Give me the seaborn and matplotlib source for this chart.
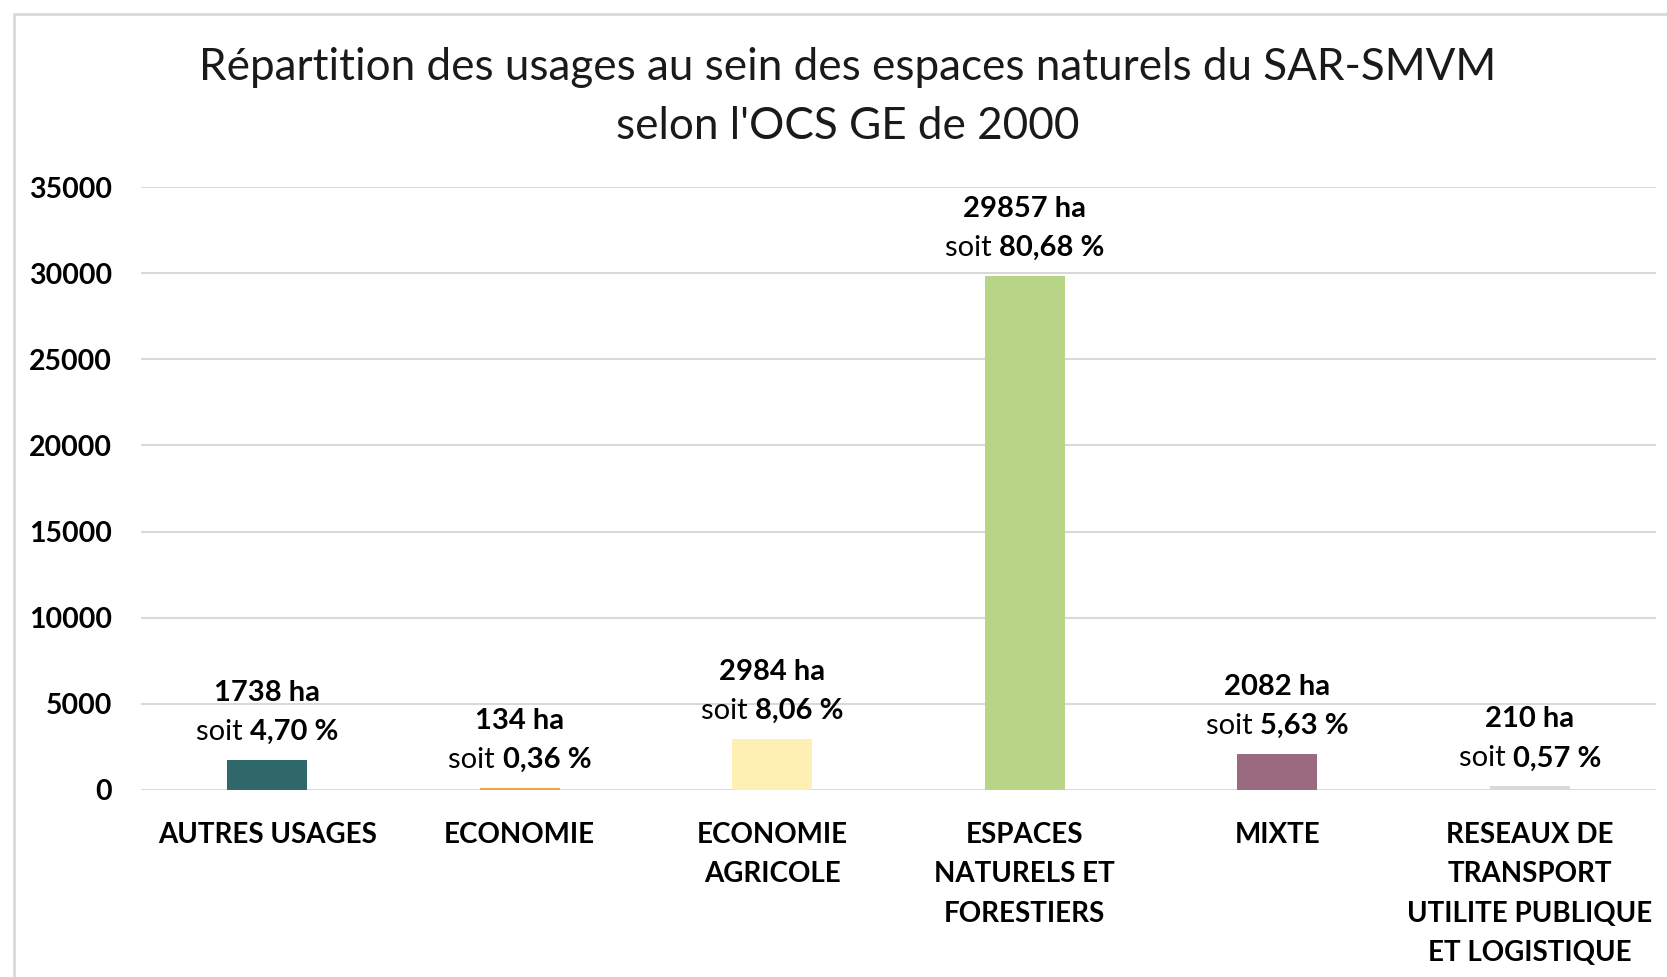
import matplotlib
matplotlib.use("Agg")
import matplotlib.pyplot as plt
import seaborn as sns
import pandas as pd
from matplotlib.lines import Line2D

categories = ["AUTRES USAGES", "ECONOMIE", "ECONOMIE\nAGRICOLE",
              "ESPACES\nNATURELS ET\nFORESTIERS", "MIXTE",
              "RESEAUX DE\nTRANSPORT\nUTILITE PUBLIQUE\nET LOGISTIQUE"]
hectares = [1738, 134, 2984, 29857, 2082, 210]
percents = ["4,70 %", "0,36 %", "8,06 %", "80,68 %", "5,63 %", "0,57 %"]
colors = ["#2E686A", "#F2A440", "#FEEFB2", "#B8D487", "#9A6A80", "#D9D9D9"]
yticks = [0, 5000, 10000, 15000, 20000, 25000, 30000, 35000]
title = "Répartition des usages au sein des espaces naturels du SAR-SMVM\nselon l'OCS GE de 2000"

sns.set_theme(style="white")
plt.rcParams['font.family'] = ['Lato', 'DejaVu Sans']

W, H, DPI = 1667, 977, 100
fig = plt.figure(figsize=(W / DPI, H / DPI), dpi=DPI)
fig.patch.set_facecolor("white")
ax = fig.add_axes([141 / W, 1 - 790 / H, (1656 - 141) / W, (790 - 187) / H])

df = pd.DataFrame({"cat": categories, "ha": hectares})
sns.barplot(data=df, x="cat", y="ha", hue="cat", palette=colors, legend=False,
            width=0.316, saturation=1, linewidth=0, ax=ax, zorder=3)

ax.set_xlim(-0.5, len(categories) - 0.5)
ax.set_ylim(0, 35000)
ax.set_yticks(yticks)
ax.set_yticklabels([str(v) for v in yticks], fontsize=20.5, fontweight="bold", color="#000000")
ax.set_xticks(range(len(categories)))
ax.set_xticklabels(categories, fontsize=20, fontweight="bold", color="#000000",
                   linespacing=1.64, va="top")
ax.tick_params(axis="y", length=0, pad=21)
ax.tick_params(axis="x", length=0, pad=23)
ax.set_xlabel("")
ax.set_ylabel("")
for s in ax.spines.values():
    s.set_visible(False)
ax.yaxis.grid(True, color="#D9D9D9", linewidth=1.5, zorder=0)
ax.set_axisbelow(True)

# title
fig.text(848 / W, 1 - 97 / H, title, ha="center", va="center", fontsize=31.7,
         linespacing=1.57, color="#1a1a1a")

# border
fig.add_artist(Line2D([14 / W, 1.0], [1 - 14 / H, 1 - 14 / H], transform=fig.transFigure,
                      color="#D9D9D9", lw=2))
fig.add_artist(Line2D([14 / W, 14 / W], [1 - 14 / H, 0], transform=fig.transFigure,
                      color="#D9D9D9", lw=2))

# data labels
renderer = fig.canvas.get_renderer()
px2pt = 72 / DPI
fs = 21
for i, (v, p) in enumerate(zip(hectares, percents)):
    ax.annotate(f"{v} ha", xy=(i, v), xytext=(0, 67 * px2pt), textcoords="offset points",
                ha="center", va="center", fontsize=fs, fontweight="bold", color="#000000")
    t1 = ax.text(0, 0, "soit ", fontsize=fs, color="#000000")
    t2 = ax.text(0, 0, p, fontsize=fs, fontweight="bold", color="#000000")
    w1 = t1.get_window_extent(renderer).width
    w2 = t2.get_window_extent(renderer).width
    t1.remove(); t2.remove()
    total = w1 + w2
    ax.annotate("soit ", xy=(i, v), xytext=(-total / 2 * px2pt, 28 * px2pt),
                textcoords="offset points", ha="left", va="center", fontsize=fs,
                color="#000000")
    ax.annotate(p, xy=(i, v), xytext=((-total / 2 + w1) * px2pt, 28 * px2pt),
                textcoords="offset points", ha="left", va="center", fontsize=fs,
                fontweight="bold", color="#000000")

fig.savefig("out.png", dpi=DPI)
